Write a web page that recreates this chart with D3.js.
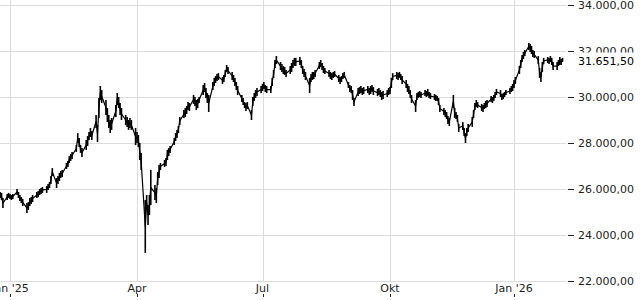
<!DOCTYPE html>
<html><head><meta charset="utf-8">
<script src="https://cdn.jsdelivr.net/npm/d3@7"></script>
<style>body{margin:0;background:#fff}svg{display:block;font-family:"DejaVu Sans",sans-serif}</style>
</head><body><svg id="c" width="640" height="300"></svg>
<script>
// Trading weekdays starting from this date, one entry per weekday (Mon-Fri), one row per week
const firstDay = "2024-12-23";
const highs = [
 26040,25960,25870,25830,25610,
 25780,25830,25780,25740,25780,
 26000,25870,25740,25650,25570,
 25390,25430,25610,25650,25740,
 25870,25910,26000,26040,26090,
 26130,26220,26300,26570,26910,
 26480,26570,26700,26780,26830,
 27130,27220,27430,27520,27610,
 27910,28430,28220,27910,27780,
 28130,28300,28480,28650,28520,
 29220,28780,29960,30480,30300,
 29870,29520,29220,29000,29090,
 29650,30170,30000,29740,29520,
 29220,29130,29000,29090,29000,
 28650,28480,28350,28000,27570,
 25520,25740,25300,25740,26830,
 26170,26040,26740,27040,27130,
 27260,27350,27700,27780,27870,
 28220,28430,28570,28740,29130,
 29430,29520,29610,29780,29740,
 30090,30000,29870,29910,30000,
 30520,30610,30390,30170,30090,
 30650,30830,30910,31000,31040,
 30870,30960,31170,31390,31300,
 31090,30960,30830,30650,30480,
 30090,29960,29780,29740,29780,
 29430,30000,30170,30300,30390,
 30480,30570,30650,30520,30480,
 30480,30830,31170,31610,31780,
 31520,31430,31350,31300,31170,
 31350,31480,31610,31700,31700,
 31740,31610,31350,31220,31090,
 30830,31000,31090,31090,31170,
 31520,31610,31480,31350,31260,
 31170,31090,31040,31090,31130,
 30960,30870,30910,31040,31090,
 30650,30520,30480,30300,29960,
 30390,30430,30480,30390,30430,
 30480,30390,30480,30520,30430,
 30350,30390,30300,30220,30260,
 30300,30390,30430,30830,31040,
 31090,31040,31090,31000,30910,
 30740,30570,30480,30300,30090,
 29870,30170,30220,30260,30220,
 30300,30260,30350,30220,30170,
 30130,30090,30040,29960,29650,
 29520,29430,29350,29170,29090,
 30090,29520,29350,29220,28830,
 28910,28650,28430,28650,28830,
 29130,29430,29740,29870,29780,
 29700,29650,29740,29830,29870,
 30040,30000,30090,30220,30350,
 30300,30130,30170,30220,30300,
 30390,30480,30570,30740,30870,
 31350,31610,31830,31960,32040,
 32350,32300,32220,32040,32000,
 31780,31260,31090,31520,31700,
 31740,31700,31780,31700,31520,
 31520,31610,31740,31650,31700
];
const lows = [
 25700,25650,25610,25520,25170,
 25520,25610,25570,25520,25570,
 25740,25610,25480,25390,25260,
 24960,25090,25260,25350,25430,
 25610,25650,25740,25780,25830,
 25830,25960,26040,26220,26570,
 26040,26220,26350,26480,26520,
 26870,26960,27130,27220,27300,
 27610,28000,27830,27570,27390,
 27700,27870,28130,28260,28130,
 28650,28040,29090,29870,29740,
 29220,28910,28650,28430,28570,
 29130,29650,29520,29220,29000,
 28780,28700,28570,28650,28570,
 27910,28000,27830,27260,26830,
 23220,25090,24430,24870,25300,
 25520,25390,26170,26480,26830,
 26960,27000,27260,27430,27570,
 27910,28090,28220,28430,28780,
 29090,29130,29260,29430,29390,
 29700,29610,29430,29520,29740,
 30090,30220,29960,29740,29350,
 30300,30480,30610,30700,30740,
 30570,30650,30870,31090,31000,
 30740,30650,30480,30300,30090,
 29780,29650,29520,29390,29480,
 29000,29610,29830,29960,30040,
 30170,30260,30350,30220,30170,
 30170,30480,30830,31260,31430,
 31170,31090,31000,30960,30870,
 31000,31090,31260,31350,31350,
 31390,31260,31000,30870,30740,
 30170,30650,30740,30780,30870,
 31220,31300,31170,31040,31000,
 30870,30780,30740,30830,30870,
 30650,30570,30650,30780,30830,
 30390,30220,30170,29870,29610,
 30040,30130,30170,30090,30130,
 30170,30090,30130,30220,30090,
 30040,30090,30000,29870,29910,
 30000,30090,30130,30390,30740,
 30780,30740,30830,30740,30570,
 30390,30220,30130,29960,29740,
 29350,29870,29960,30000,29960,
 30040,30000,30040,29960,29910,
 29870,29830,29830,29650,29350,
 29220,29130,29040,28830,28740,
 29520,29090,29040,28910,28480,
 28570,28300,28000,28300,28480,
 28700,29090,29430,29570,29520,
 29390,29350,29480,29520,29570,
 29780,29740,29830,29960,30090,
 30000,29870,29910,30000,30090,
 30130,30220,30260,30390,30570,
 31000,31260,31520,31650,31780,
 32040,31960,31870,31740,31700,
 31430,30830,30650,31090,31430,
 31480,31430,31520,31390,31170,
 31170,31350,31390,31390,31520
];
const lastPrice = 31651.5;
const yTicks = [22000, 24000, 26000, 28000, 30000, 32000, 34000];
const xTickDates = ["2025-01-01", "2025-04-01", "2025-07-01", "2025-10-01", "2026-01-01"];
const xTickLabels = ["Jan '25", "Apr", "Jul", "Okt", "Jan '26"];

const parse = d3.utcParse("%Y-%m-%d");
const start = parse(firstDay);
const days = d3.utcDay.range(start, d3.utcDay.offset(start, 500))
  .filter(d => d.getUTCDay() >= 1 && d.getUTCDay() <= 5)
  .slice(0, highs.length);
const data = days.map((d, i) => ({date: d, hi: highs[i], lo: lows[i]}));

const plotRight = 566;
const x = d3.scaleUtc()
  .domain(xTickDates.map(parse))
  .range([10, 137, 262.5, 390, 514]);
const y = d3.scaleLinear().domain([22000, 34000]).range([281, 5]);

const de = d3.formatLocale({decimal: ",", thousands: ".", grouping: [3], currency: ["", ""]});
const fmt = de.format(",.2f");

const svg = d3.select("#c");
svg.append("defs").append("clipPath").attr("id", "clip")
  .append("rect").attr("x", 0).attr("y", 0).attr("width", plotRight).attr("height", 282);

// horizontal grid
svg.append("g").selectAll("line").data(yTicks).join("line")
  .attr("x1", 0).attr("x2", plotRight)
  .attr("y1", d => Math.round(y(d)) + 0.5).attr("y2", d => Math.round(y(d)) + 0.5)
  .attr("stroke", "#dcdcdc").attr("stroke-width", 1);
// vertical grid
svg.append("g").selectAll("line").data(xTickDates).join("line")
  .attr("x1", d => Math.round(x(parse(d))) + 0.5).attr("x2", d => Math.round(x(parse(d))) + 0.5)
  .attr("y1", 0).attr("y2", Math.round(y(22000)))
  .attr("stroke", "#dcdcdc").attr("stroke-width", 1);

// price bars
const g = svg.append("g").attr("clip-path", "url(#clip)");
g.selectAll("line").data(data).join("line")
  .attr("x1", d => x(d.date)).attr("x2", d => x(d.date))
  .attr("y1", d => y(d.hi)).attr("y2", d => y(d.lo))
  .attr("stroke", "#000").attr("stroke-width", 1.6);
g.append("path").datum(data)
  .attr("d", d3.line().x(d => x(d.date)).y(d => y((d.hi + d.lo) / 2)))
  .attr("fill", "none").attr("stroke", "#000").attr("stroke-width", 1.2);

// y axis labels
const ya = svg.append("g");
ya.selectAll("line").data(yTicks).join("line")
  .attr("x1", 568).attr("x2", 574)
  .attr("y1", d => Math.round(y(d)) + 0.5).attr("y2", d => Math.round(y(d)) + 0.5)
  .attr("stroke", "#222").attr("stroke-width", 1);
ya.selectAll("text").data(yTicks).join("text")
  .attr("x", 578).attr("y", d => y(d)).attr("dy", "0.35em")
  .attr("font-size", 11).attr("fill", "#222").text(d => fmt(d));

// last price label (drawn over the neighbouring tick label, as in the source)
const lp = svg.append("g");
lp.append("rect").attr("x", 576).attr("y", y(lastPrice) - 6.5).attr("width", 64).attr("height", 14).attr("fill", "#fff");
lp.append("text").attr("x", 578).attr("y", y(lastPrice) + 2).attr("dy", "0.35em")
  .attr("font-size", 11).attr("fill", "#000").text(fmt(lastPrice));

// x axis labels
const xa = svg.append("g");
xa.selectAll("text").data(xTickDates).join("text")
  .attr("x", d => x(parse(d))).attr("y", 292)
  .attr("text-anchor", "middle").attr("font-size", 11).attr("fill", "#222")
  .text((d, i) => xTickLabels[i]);
xa.selectAll("line").data(xTickDates).join("line")
  .attr("x1", d => Math.round(x(parse(d))) + 0.5).attr("x2", d => Math.round(x(parse(d))) + 0.5)
  .attr("y1", 294).attr("y2", 297).attr("stroke", "#222");
</script></body></html>
